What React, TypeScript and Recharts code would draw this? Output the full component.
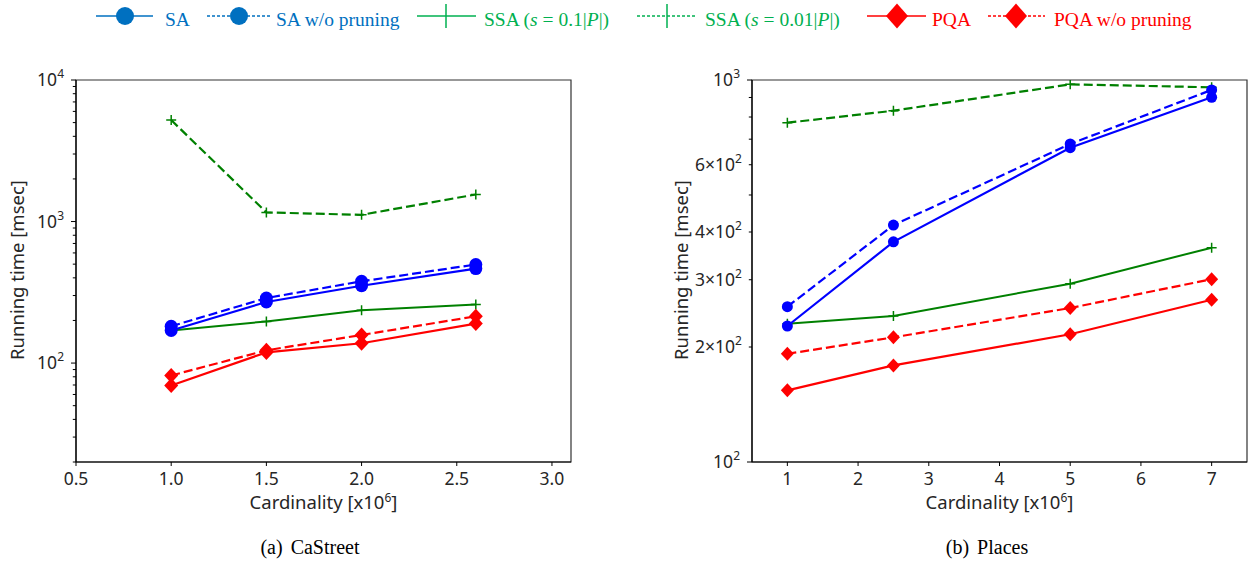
import React from "react";
import { LineChart, Line, XAxis, YAxis, ReferenceArea } from "recharts";

// (a) CaStreet
const caCardinality = [1.0, 1.5, 2.0, 2.6];
const caSA = [170, 270, 352, 465];
const caSANoPrune = [182, 288, 378, 497];
const caSSA01 = [170, 197, 236, 259];
const caSSA001 = [5210, 1160, 1115, 1553];
const caPQA = [69.5, 119, 138, 190];
const caPQANoPrune = [81.7, 123, 158, 214];

// (b) Places
const plCardinality = [1, 2.5, 5, 7];
const plSA = [227, 377, 665, 901];
const plSANoPrune = [255, 417, 680, 942];
const plSSA01 = [230, 241, 293, 364];
const plSSA001 = [773, 831, 974, 957];
const plPQA = [154, 179, 216, 266];
const plPQANoPrune = [192, 212, 253, 301];

// axis ticks
const caXTicks = [0.5, 1.0, 1.5, 2.0, 2.5, 3.0];
const caXLabels = ["0.5", "1.0", "1.5", "2.0", "2.5", "3.0"];
const caYTicks = [20, 30, 40, 50, 60, 70, 80, 90, 100, 200, 300, 400, 500, 600, 700, 800, 900, 1000, 2000, 3000, 4000, 5000, 6000, 7000, 8000, 9000, 10000];
const caYMajor = [100, 1000, 10000];
const caYLabels: Record<number, [string, string]> = {
  100: ["10", "2"],
  1000: ["10", "3"],
  10000: ["10", "4"],
};

const plXTicks = [1, 2, 3, 4, 5, 6, 7];
const plXLabels = ["1", "2", "3", "4", "5", "6", "7"];
const plYTicks = [100, 200, 300, 400, 500, 600, 700, 800, 900, 1000];
const plYMajor = [100, 1000];
const plYLabels: Record<number, [string, string]> = {
  100: ["10", "2"],
  200: ["2\u00d710", "2"],
  300: ["3\u00d710", "2"],
  400: ["4\u00d710", "2"],
  600: ["6\u00d710", "2"],
  1000: ["10", "3"],
};

const BLUE = "#0000ff";
const GREEN = "#008000";
const RED = "#ff0000";
const TXT = "#262626";
const AXIS_FONT = '"Noto Sans", "DejaVu Sans", sans-serif';
const SERIF = '"Liberation Serif", "Times New Roman", serif';
const DASH = "9 4";

const toRows = (xs: number[], cols: Record<string, number[]>) =>
  xs.map((x, i) => {
    const row: Record<string, number> = { x };
    Object.entries(cols).forEach(([k, v]) => (row[k] = v[i]));
    return row;
  });

const caData = toRows(caCardinality, {
  sa: caSA,
  saNp: caSANoPrune,
  ssa1: caSSA01,
  ssa01: caSSA001,
  pqa: caPQA,
  pqaNp: caPQANoPrune,
});
const plData = toRows(plCardinality, {
  sa: plSA,
  saNp: plSANoPrune,
  ssa1: plSSA01,
  ssa01: plSSA001,
  pqa: plPQA,
  pqaNp: plPQANoPrune,
});

const circleDot = (r: number) => (p: any) => (
  <circle key={`c-${p.index}`} cx={p.cx} cy={p.cy} r={r} fill={BLUE} stroke="none" />
);
const plusDot = (s: number) => (p: any) => (
  <path
    key={`p-${p.index}`}
    d={`M${p.cx - s},${p.cy}H${p.cx + s}M${p.cx},${p.cy - s}V${p.cy + s}`}
    stroke={GREEN}
    strokeWidth={1.5}
    fill="none"
  />
);
const diamondDot = (w: number, h: number) => (p: any) => (
  <path
    key={`d-${p.index}`}
    d={`M${p.cx},${p.cy - h}L${p.cx + w},${p.cy}L${p.cx},${p.cy + h}L${p.cx - w},${p.cy}Z`}
    fill={RED}
    stroke="none"
  />
);

const YTick = (props: any) => {
  const { x, y, payload, majors, labels } = props;
  const v = payload.value;
  const len = majors.includes(v) ? 5 : 3.2;
  const lab = labels[v];
  return (
    <g>
      <line x1={x - len} x2={x} y1={y} y2={y} stroke="#000" strokeWidth={1} />
      {lab && (
        <text x={x - len - 7} y={y + 6} textAnchor="end" fill={TXT} fontSize={17.5} fontFamily={AXIS_FONT}>
          {lab[0]}
          <tspan dy={-8} fontSize={12}>
            {lab[1]}
          </tspan>
        </text>
      )}
    </g>
  );
};

const XTick = (props: any) => {
  const { x, y, payload, ticks, labels } = props;
  const i = ticks.indexOf(payload.value);
  return (
    <g>
      <line x1={x} x2={x} y1={y} y2={y + 4} stroke="#000" strokeWidth={1} />
      <text x={x} y={y + 23} textAnchor="middle" fill={TXT} fontSize={17.5} fontFamily={AXIS_FONT}>
        {labels[i]}
      </text>
    </g>
  );
};

type PanelProps = {
  data: Record<string, number>[];
  width: number;
  yWidth: number;
  rightMargin: number;
  xDomain: [number, number];
  yDomain: [number, number];
  xTicks: number[];
  xLabels: string[];
  yTicks: number[];
  yMajor: number[];
  yLabels: Record<number, [string, string]>;
  circleR: number;
  diamond: [number, number];
};

const Panel = (p: PanelProps) => (
  <LineChart
    width={p.width}
    height={565}
    data={p.data}
    margin={{ top: 80, right: p.rightMargin, bottom: 0, left: 0 }}
  >
    <XAxis
      dataKey="x"
      type="number"
      domain={p.xDomain}
      ticks={p.xTicks}
      interval={0}
      allowDataOverflow
      height={103}
      tickSize={0}
      tickMargin={0}
      tickLine={false}
      axisLine={{ stroke: "#000", strokeWidth: 1.2 }}
      tick={(t: any) => <XTick {...t} ticks={p.xTicks} labels={p.xLabels} />}
    />
    <YAxis
      type="number"
      scale="log"
      domain={p.yDomain}
      ticks={p.yTicks}
      interval={0}
      allowDataOverflow
      width={p.yWidth}
      tickSize={0}
      tickMargin={0}
      tickLine={false}
      axisLine={{ stroke: "#000", strokeWidth: 1.2 }}
      tick={(t: any) => <YTick {...t} majors={p.yMajor} labels={p.yLabels} />}
    />
    <ReferenceArea
      x1={p.xDomain[0]}
      x2={p.xDomain[1]}
      y1={p.yDomain[0]}
      y2={p.yDomain[1]}
      fill="none"
      stroke="#333"
      strokeWidth={1.2}
      ifOverflow="visible"
    />
    <Line dataKey="ssa01" stroke={GREEN} strokeWidth={2.2} strokeDasharray={DASH} dot={plusDot(5)} isAnimationActive={false} />
    <Line dataKey="ssa1" stroke={GREEN} strokeWidth={2} dot={plusDot(5)} isAnimationActive={false} />
    <Line dataKey="sa" stroke={BLUE} strokeWidth={2.2} dot={circleDot(p.circleR)} isAnimationActive={false} />
    <Line dataKey="saNp" stroke={BLUE} strokeWidth={2.2} strokeDasharray={DASH} dot={circleDot(p.circleR)} isAnimationActive={false} />
    <Line dataKey="pqa" stroke={RED} strokeWidth={2.2} dot={diamondDot(p.diamond[0], p.diamond[1])} isAnimationActive={false} />
    <Line dataKey="pqaNp" stroke={RED} strokeWidth={2.2} strokeDasharray={DASH} dot={diamondDot(p.diamond[0], p.diamond[1])} isAnimationActive={false} />
  </LineChart>
);

const LegendItem = ({
  x1,
  x2,
  mx,
  tx,
  color,
  textColor,
  dashed,
  marker,
  children,
}: any) => (
  <g>
    <line x1={x1} x2={x2} y1={16} y2={16} stroke={color} strokeWidth={1.5} strokeDasharray={dashed ? "3 2" : undefined} />
    {marker === "circle" && <circle cx={mx} cy={16} r={9} fill={color} />}
    {marker === "plus" && <line x1={mx} x2={mx} y1={4} y2={28} stroke={color} strokeWidth={1.5} />}
    {marker === "diamond" && (
      <path d={`M${mx},${16 - 12.5}L${mx + 11},16L${mx},${16 + 12.5}L${mx - 11},16Z`} fill={color} />
    )}
    <text x={tx} y={26} fill={textColor} fontSize={19.5} fontFamily={SERIF}>
      {children}
    </text>
  </g>
);

const Overlay = () => (
  <svg width={1251} height={565} style={{ position: "absolute", left: 0, top: 0, pointerEvents: "none" }}>
    <LegendItem x1={96} x2={153} mx={125} tx={165} color="#0070c0" textColor="#0070c0" marker="circle">
      SA
    </LegendItem>
    <LegendItem x1={207} x2={270} mx={239} tx={276} color="#0070c0" textColor="#0070c0" marker="circle" dashed>
      SA w/o pruning
    </LegendItem>
    <LegendItem x1={417} x2={476} mx={446} tx={484} color="#00b050" textColor="#00b050" marker="plus">
      SSA (<tspan fontStyle="italic">s</tspan> = 0.1|<tspan fontStyle="italic">P</tspan>|)
    </LegendItem>
    <LegendItem x1={637} x2={697} mx={667} tx={705} color="#00b050" textColor="#00b050" marker="plus" dashed>
      SSA (<tspan fontStyle="italic">s</tspan> = 0.01|<tspan fontStyle="italic">P</tspan>|)
    </LegendItem>
    <LegendItem x1={867} x2={926} mx={897} tx={932} color={RED} textColor={RED} marker="diamond">
      PQA
    </LegendItem>
    <LegendItem x1={988} x2={1045} mx={1016} tx={1054} color={RED} textColor={RED} marker="diamond" dashed>
      PQA w/o pruning
    </LegendItem>

    {/* axis titles */}
    <text x={323.5} y={509} textAnchor="middle" fill={TXT} fontSize={18.5} fontFamily={AXIS_FONT}>
      Cardinality [x10<tspan dy={-7} fontSize={12}>6</tspan>
      <tspan dy={7}>]</tspan>
    </text>
    <text x={999.5} y={509} textAnchor="middle" fill={TXT} fontSize={18.5} fontFamily={AXIS_FONT}>
      Cardinality [x10<tspan dy={-7} fontSize={12}>6</tspan>
      <tspan dy={7}>]</tspan>
    </text>
    <text transform="translate(24,270) rotate(-90)" textAnchor="middle" fill={TXT} fontSize={18.5} fontFamily={AXIS_FONT}>
      Running time [msec]
    </text>
    <text transform="translate(688,270) rotate(-90)" textAnchor="middle" fill={TXT} fontSize={18.5} fontFamily={AXIS_FONT}>
      Running time [msec]
    </text>

    {/* captions */}
    <text x={310} y={554} textAnchor="middle" fill="#000" fontSize={20} fontFamily={SERIF}>
      (a)<tspan dx={8}>CaStreet</tspan>
    </text>
    <text x={987} y={554} textAnchor="middle" fill="#000" fontSize={20} fontFamily={SERIF}>
      (b)<tspan dx={8}>Places</tspan>
    </text>
  </svg>
);

export default function App() {
  return (
    <div style={{ position: "absolute", left: 0, top: 0, width: 1251, height: 565, background: "#fff" }}>
      <div style={{ position: "absolute", left: 0, top: 0 }}>
        <Panel
          data={caData}
          width={600}
          yWidth={76}
          rightMargin={29}
          xDomain={[0.5, 3.1]}
          yDomain={[20, 10000]}
          xTicks={caXTicks}
          xLabels={caXLabels}
          yTicks={caYTicks}
          yMajor={caYMajor}
          yLabels={caYLabels}
          circleR={6.5}
          diamond={[7, 7.5]}
        />
      </div>
      <div style={{ position: "absolute", left: 600, top: 0 }}>
        <Panel
          data={plData}
          width={651}
          yWidth={152}
          rightMargin={4}
          xDomain={[0.5, 7.5]}
          yDomain={[100, 1000]}
          xTicks={plXTicks}
          xLabels={plXLabels}
          yTicks={plYTicks}
          yMajor={plYMajor}
          yLabels={plYLabels}
          circleR={5.5}
          diamond={[6.5, 7]}
        />
      </div>
      <Overlay />
    </div>
  );
}
